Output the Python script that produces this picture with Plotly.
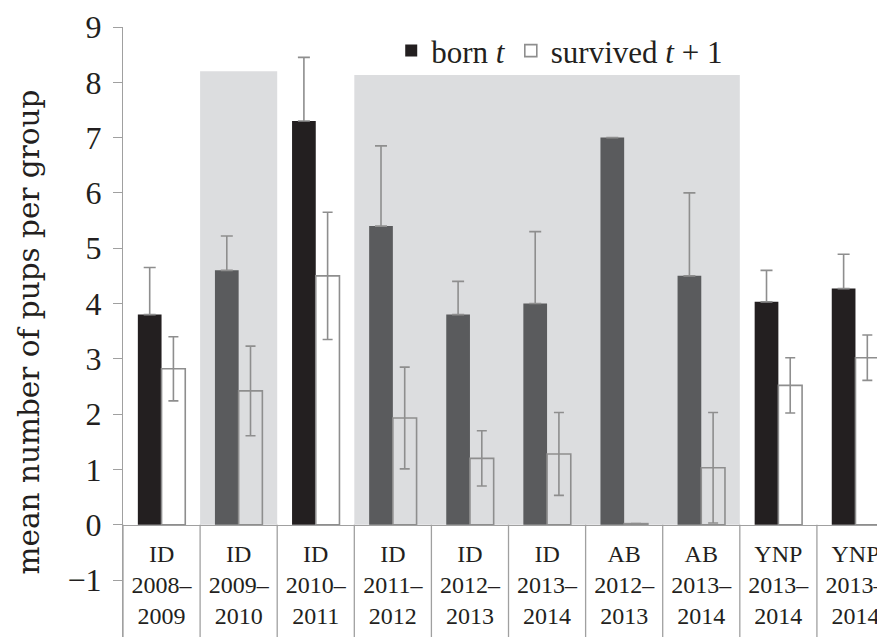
import plotly.graph_objects as go

# ---------------- data ----------------
groups = ["ID<br>2008–<br>2009", "ID<br>2009–<br>2010", "ID<br>2010–<br>2011",
          "ID<br>2011–<br>2012", "ID<br>2012–<br>2013", "ID<br>2013–<br>2014",
          "AB<br>2012–<br>2013", "AB<br>2013–<br>2014", "YNP<br>2013–<br>2014",
          "YNP<br>2013–<br>2014"]
group_ids = list(range(len(groups)))
born = [3.8, 4.6, 7.3, 5.4, 3.8, 4.0, 7.0, 4.5, 4.03, 4.27]
born_err = [0.85, 0.62, 1.15, 1.45, 0.6, 1.3, None, 1.5, 0.57, 0.62]
survived = [2.82, 2.42, 4.5, 1.93, 1.2, 1.28, 0.02, 1.03, 2.52, 3.02]
survived_err = [0.58, 0.81, 1.15, 0.92, 0.5, 0.75, None, 1.0, 0.5, 0.41]
shaded = [False, True, False, True, True, True, True, True, False, False]
shade_spans = [(1, 1, 8.2), (3, 7, 8.13)]   # (first group, last group, top)
y_ticks = list(range(-1, 10))

BLACK = "#231f20"
DGRAY = "#5a5b5d"
SHADE = "#dcdddf"
LGRAY = "#8e8e8e"
AXIS = "#a0a0a0"
FONT = "Liberation Serif"

born_colors = [DGRAY if s else BLACK for s in shaded]

fig = go.Figure()
fig.add_trace(go.Bar(
    x=group_ids, y=born, name="born <i>t</i>",
    marker=dict(color=born_colors, line=dict(width=0)),
    error_y=dict(type="data", symmetric=False, array=born_err,
                 arrayminus=[0 if e is not None else None for e in born_err],
                 color=LGRAY, thickness=1.6, width=6),
))
fig.add_trace(go.Bar(
    x=group_ids, y=survived, name="survived <i>t</i> + 1",
    marker=dict(color="rgba(255,255,255,0)", line=dict(color=LGRAY, width=1.6)),
    error_y=dict(type="data", array=survived_err, color=LGRAY, thickness=1.6, width=5),
))

shapes = []
for g0, g1, top in shade_spans:
    shapes.append(dict(type="rect", xref="x", yref="y", x0=g0 - 0.5, x1=g1 + 0.5,
                       y0=0, y1=top, fillcolor=SHADE, line=dict(width=0), layer="below"))
for k in range(len(groups) + 1):
    shapes.append(dict(type="line", xref="x", yref="y", x0=k - 0.5, x1=k - 0.5,
                       y0=0, y1=-3, line=dict(color=AXIS, width=1.3)))

# page has an 8px body margin: figure is drawn from (8, 8)
ymin, ymax = -2.03, 9
fig.update_layout(
    width=877, height=629,
    margin=dict(l=115, r=0, t=19, b=0),
    paper_bgcolor="white", plot_bgcolor="white",
    barmode="group", bargap=0.385, bargroupgap=0,
    font=dict(family=FONT, color="#231f20"),
    shapes=shapes,
    showlegend=True,
    legend=dict(orientation="h", x=0.352, y=1.005, xanchor="left", yanchor="top",
                font=dict(size=31, family=FONT, color="#231f20"),
                bgcolor="rgba(0,0,0,0)", itemwidth=30, tracegroupgap=0),
    xaxis=dict(type="linear", range=[-0.5, 9.383], anchor="free",
               position=(0 - ymin) / (ymax - ymin),
               tickvals=group_ids, ticktext=groups, ticks="",
               tickfont=dict(size=24, family=FONT, color="#231f20"),
               ticklabelstandoff=7, ticklabeloverflow="allow",
               showline=True, linecolor=AXIS, linewidth=1.3,
               showgrid=False, zeroline=False, automargin=False),
    yaxis=dict(range=[ymin, ymax], tickvals=y_ticks, showgrid=False, zeroline=False,
               showline=True, linecolor=AXIS, linewidth=1.3,
               ticks="outside", ticklen=9, tickcolor=AXIS, tickwidth=1.3,
               ticklabelstandoff=5,
               tickfont=dict(size=32, family=FONT, color="#231f20"),
               title=dict(text="mean number of pups per group",
                          font=dict(size=29.5, family="DejaVu Serif", color="#231f20"),
                          standoff=19),
               automargin=False),
)

fig.write_html("out.html")
